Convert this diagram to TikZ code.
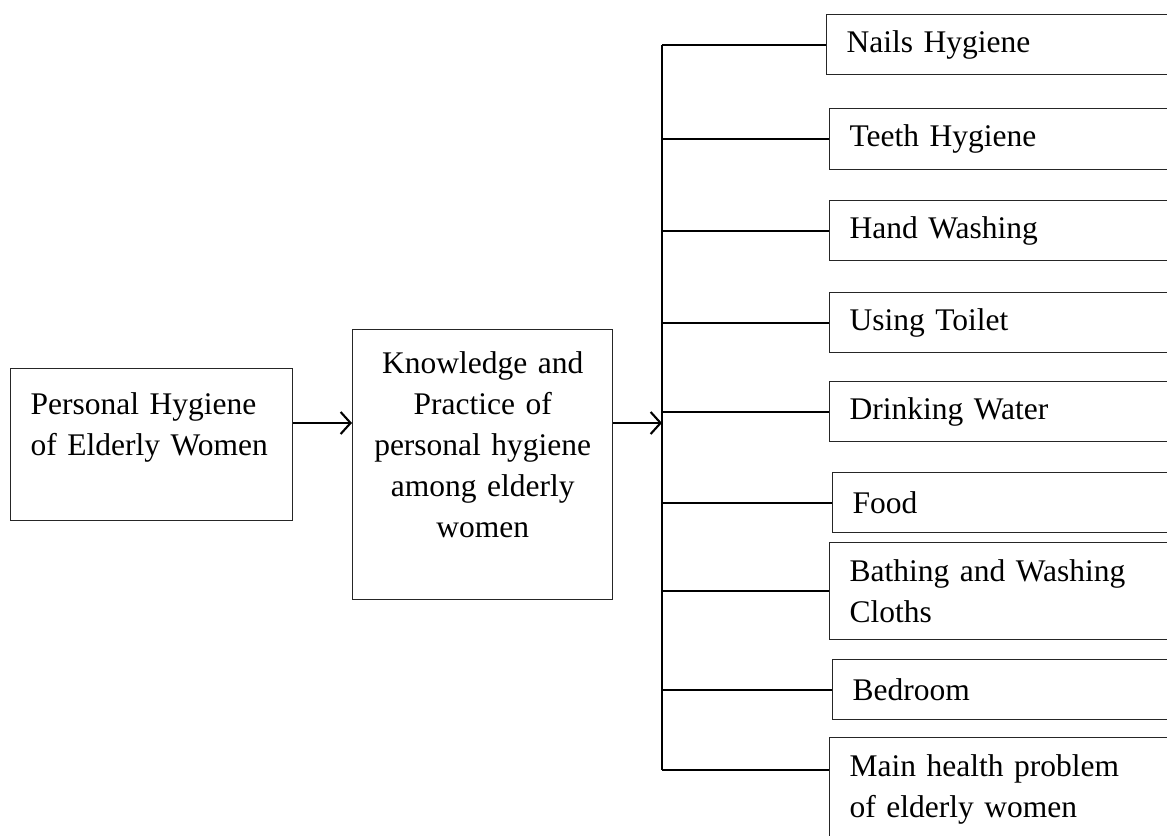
\documentclass[tikz,border=0pt]{standalone}
\usepackage{fontspec}
\setmainfont{Liberation Serif}
\usetikzlibrary{arrows.meta}

\begin{document}
\begin{tikzpicture}[
    x=0.381pt, y=-0.381pt,
    font=\fontsize{12pt}{15.6pt}\selectfont,
    box/.style={draw=black!85, line width=0.5pt, anchor=north west, inner ysep=0pt},
    leftbox/.style={box, align=left, inner xsep=7.6pt, text width=92.2pt, minimum height=57.9pt},
    midbox/.style={box, align=center, inner xsep=5pt, text width=89.1pt, minimum height=102.9pt},
    item/.style={box, align=left, inner xsep=7.6pt, text width=180pt, minimum height=22.9pt},
    conn/.style={line width=0.8pt},
    arr/.style={conn, -{Straight Barb[length=3.8pt, width=8.4pt]}}
]
\useasboundingbox (0,0) rectangle (1167,836);
\clip (0,0) rectangle (1167,836);

\node[leftbox] (personal) at (10,368) {Personal Hygiene\\of Elderly Women\\\mbox{}};
\node[midbox] (practice) at (352,329) {Knowledge and\\Practice of\\personal hygiene\\among elderly\\women\\\mbox{}};

% items, open to the right edge of the page
\node[item] (nails) at (826,14) {Nails Hygiene};
\node[item, minimum height=23.2pt] (teeth) at (829,108) {Teeth Hygiene};
\node[item] (hand) at (829,200) {Hand Washing};
\node[item] (toilet) at (829,292) {Using Toilet};
\node[item] (water) at (829,381) {Drinking Water};
\node[item] (food) at (832,472) {Food};
\node[item, minimum height=37pt] (bathing) at (829,542) {Bathing and Washing\\Cloths};
\node[item] (bedroom) at (832,659) {Bedroom};
\node[item, minimum height=39.6pt] (problem) at (829,737) {Main health problem\\of elderly women};

\coordinate (hub) at (662,423);
\coordinate (bot) at (662,770);

\draw[arr] (personal.east |- hub) -- (practice.west |- hub);
\draw[arr] (practice.east |- hub) -- (hub);
\draw[conn] (bot |- nails.west) -- (bot);
\foreach \n in {nails,teeth,hand,toilet,water,food,bathing,bedroom}
    \draw[conn] (bot |- \n.west) -- (\n.west);
\draw[conn] (bot) -- (bot -| problem.west);
\end{tikzpicture}
\end{document}
